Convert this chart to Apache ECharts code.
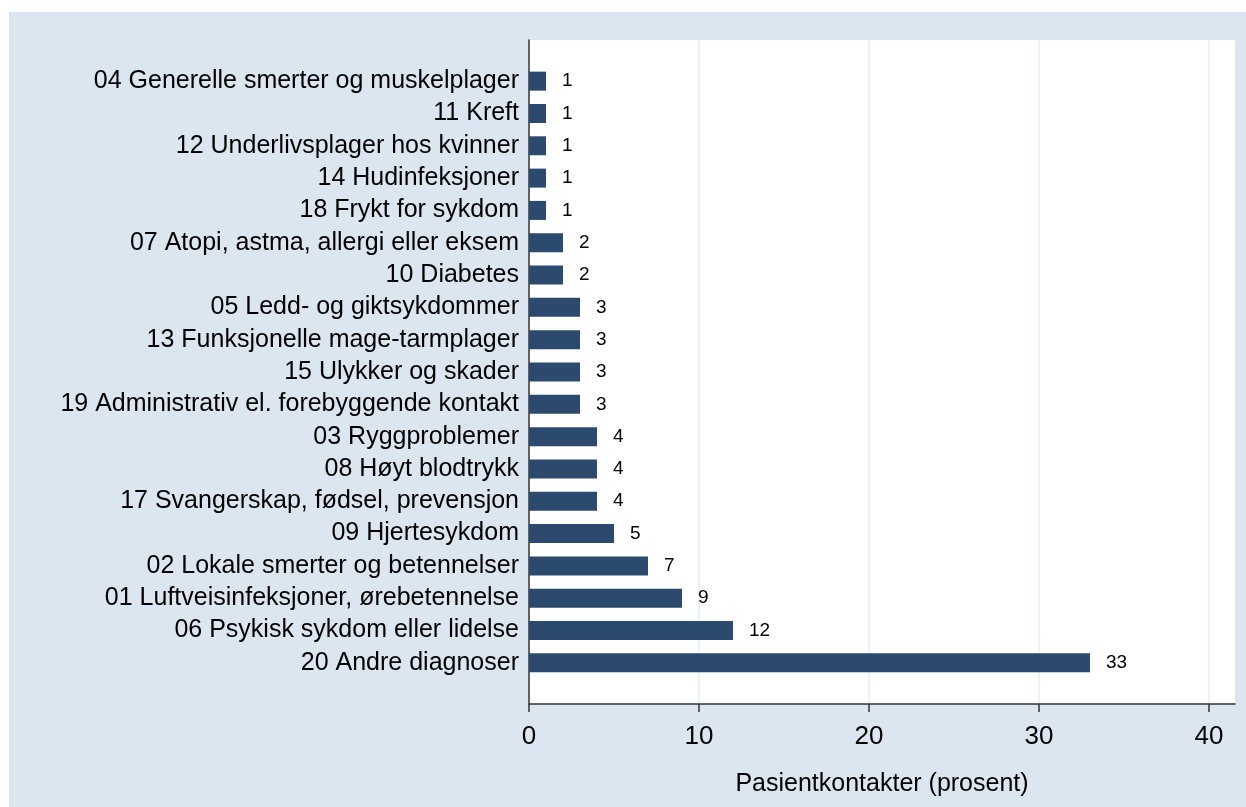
<!DOCTYPE html>
<html><head><meta charset="utf-8">
<script src="https://cdn.jsdelivr.net/npm/echarts@6/dist/echarts.min.js"></script>
<style>html,body{margin:0;padding:0;background:#fff}#c{width:1246px;height:807px}</style>
</head><body><div id="c"></div>
<script>
const categories = [
  "04 Generelle smerter og muskelplager",
  "11 Kreft",
  "12 Underlivsplager hos kvinner",
  "14 Hudinfeksjoner",
  "18 Frykt for sykdom",
  "07 Atopi, astma, allergi eller eksem",
  "10 Diabetes",
  "05 Ledd- og giktsykdommer",
  "13 Funksjonelle mage-tarmplager",
  "15 Ulykker og skader",
  "19 Administrativ el. forebyggende kontakt",
  "03 Ryggproblemer",
  "08 Høyt blodtrykk",
  "17 Svangerskap, fødsel, prevensjon",
  "09 Hjertesykdom",
  "02 Lokale smerter og betennelser",
  "01 Luftveisinfeksjoner, ørebetennelse",
  "06 Psykisk sykdom eller lidelse",
  "20 Andre diagnoser"
];
const values = [1,1,1,1,1,2,2,3,3,3,3,4,4,4,5,7,9,12,33];
const xTicks = [0,10,20,30,40];
const xTitle = "Pasientkontakter (prosent)";

const FONT = "Liberation Sans, Arial, sans-serif";
const XMAX = 41.53;
const chart = echarts.init(document.getElementById('c'), null, {renderer:'canvas'});
chart.setOption({
  animation:false,
  backgroundColor:'#ffffff',
  graphic:[{type:'rect', z:-10, shape:{x:9,y:12,width:1237,height:795}, style:{fill:'#dce6f0'}}],
  grid:[
    {left:529, right:11, top:40, bottom:103, show:true, backgroundColor:'#ffffff', borderWidth:0, z:0},
    {left:529, right:11, top:65, bottom:128, show:false}
  ],
  xAxis:[
    {gridIndex:0, type:'value', min:0, max:XMAX, interval:10,
     name:xTitle, nameLocation:'middle', nameGap:68,
     nameTextStyle:{fontFamily:FONT, fontSize:25, color:'#000'},
     axisLine:{show:true, onZero:false, lineStyle:{color:'#333', width:1.5}},
     axisTick:{show:true, length:8, customValues:xTicks, lineStyle:{color:'#333', width:1.5}},
     axisLabel:{customValues:xTicks, fontFamily:FONT, fontSize:26, color:'#000', margin:20},
     splitLine:{show:true, lineStyle:{color:'#e6eef4', width:1.5}}},
    {gridIndex:1, type:'value', min:0, max:XMAX, show:false}
  ],
  yAxis:[
    {gridIndex:0, type:'value', min:0, max:1, show:true,
     axisLine:{show:true, lineStyle:{color:'#333', width:1.5}},
     axisTick:{show:false}, axisLabel:{show:false}, splitLine:{show:false}},
    {gridIndex:1, type:'category', data:categories, inverse:true,
     axisLine:{show:false}, axisTick:{show:false},
     axisLabel:{interval:0, hideOverlap:false, fontFamily:FONT, fontSize:25, color:'#000', margin:10},
     splitLine:{show:false}}
  ],
  series:[{
    type:'bar', xAxisIndex:1, yAxisIndex:1, data:values, barWidth:19,
    itemStyle:{color:'#2c4a6e'},
    label:{show:true, position:'right', distance:16, fontFamily:FONT, fontSize:19, color:'#000'}
  }]
});
</script></body></html>
